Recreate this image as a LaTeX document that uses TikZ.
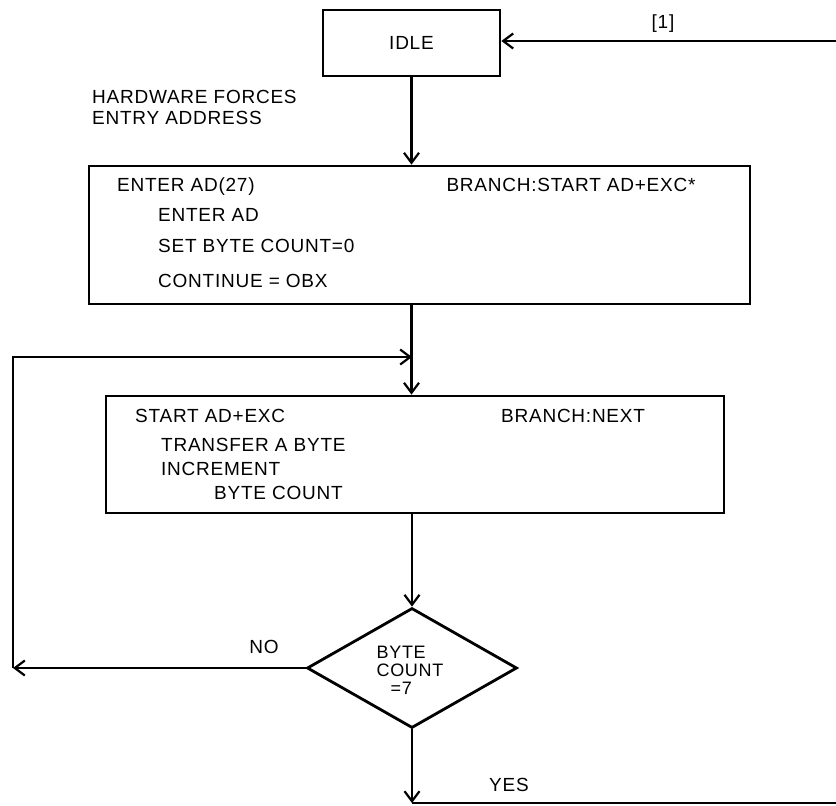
\documentclass[tikz,border=0pt]{standalone}
\usepackage{fontspec}
\setmainfont[LetterSpace=4.0]{Liberation Sans}
\usetikzlibrary{arrows.meta,shapes.geometric}
\begin{document}
\begin{tikzpicture}[x=1pt,y=-1pt,
  every node/.style={font=\fontsize{19pt}{20pt}\selectfont},
  lbl/.style={inner sep=0pt,text height=13.6pt,text depth=0pt},
  boxn/.style={draw,line width=2.8pt,inner sep=0pt},
  conn/.style={line width=2.8pt},
  arr/.style={conn,-{Straight Barb[length=10pt,width=15pt,line width=2.2pt]}}]
\useasboundingbox (0,0) rectangle (836,806);

% boxes
\node[boxn,minimum width=177pt,minimum height=66pt] (idle) at (411.5,43) {IDLE};
\node[boxn,minimum width=661pt,minimum height=138pt] (b2) at (419.5,235) {};
\node[boxn,minimum width=618pt,minimum height=117pt] (b3) at (415,454.5) {};
\node[diamond,draw,line width=2.8pt,inner sep=0pt,minimum width=210pt,minimum height=120pt] (dia) at (412,668) {};

% texts
\node[lbl] (one) at (663,22) {[1]};
\node[lbl,anchor=west,align=left] (hw) at (92,118) {HARDWARE FORCES\\[1pt]ENTRY ADDRESS};
\node[lbl,anchor=west] (t21) at (117,185) {ENTER AD(27)};
\node[lbl] (t22) at (571,185) {BRANCH:START AD+EXC*};
\node[lbl,anchor=west] (t23) at (158,215) {ENTER AD};
\node[lbl,anchor=west] (t24) at (158,246) {SET BYTE COUNT=0};
\node[lbl,anchor=west] (t25) at (158,281) {CONTINUE = OBX};
\node[lbl,anchor=west] (t31) at (135,416) {START AD+EXC};
\node[lbl,anchor=west] (t32) at (501,416) {BRANCH:NEXT};
\node[lbl,anchor=west] (t33) at (161,445) {TRANSFER A BYTE};
\node[lbl,anchor=west] (t34) at (161,469) {INCREMENT};
\node[lbl,anchor=west] (t35) at (214,493) {BYTE COUNT};
\node[inner sep=0pt,align=left,font=\fontsize{18pt}{18pt}\selectfont] (dt) at (410,670) {BYTE\\COUNT\\\hspace{14pt}=7};
\node[lbl] (no) at (264,647) {NO};
\node[lbl] (yes) at (509,785) {YES};

% coordinates
\coordinate (inright) at (836,41);
\coordinate (noend) at (13,668);
\coordinate (merge) at (412,357);
\coordinate (yesend) at (412,803);
\coordinate (outright) at (836,803);

% connectors
\draw[arr] (inright) -- (idle.east |- inright);
\draw[arr] (idle.south) -- (idle.south |- b2.north);
\draw[arr] (b2.south -| idle.south) -- (b3.north -| idle.south);
\draw[arr] (b3.south -| dia.north) -- (dia.north);
\draw[arr] (dia.west) -- (noend);
\draw[arr] (noend) |- (merge);
\draw[arr] (dia.south) -- (yesend);
\draw[conn] (yesend) -- (outright);
\end{tikzpicture}
\end{document}
